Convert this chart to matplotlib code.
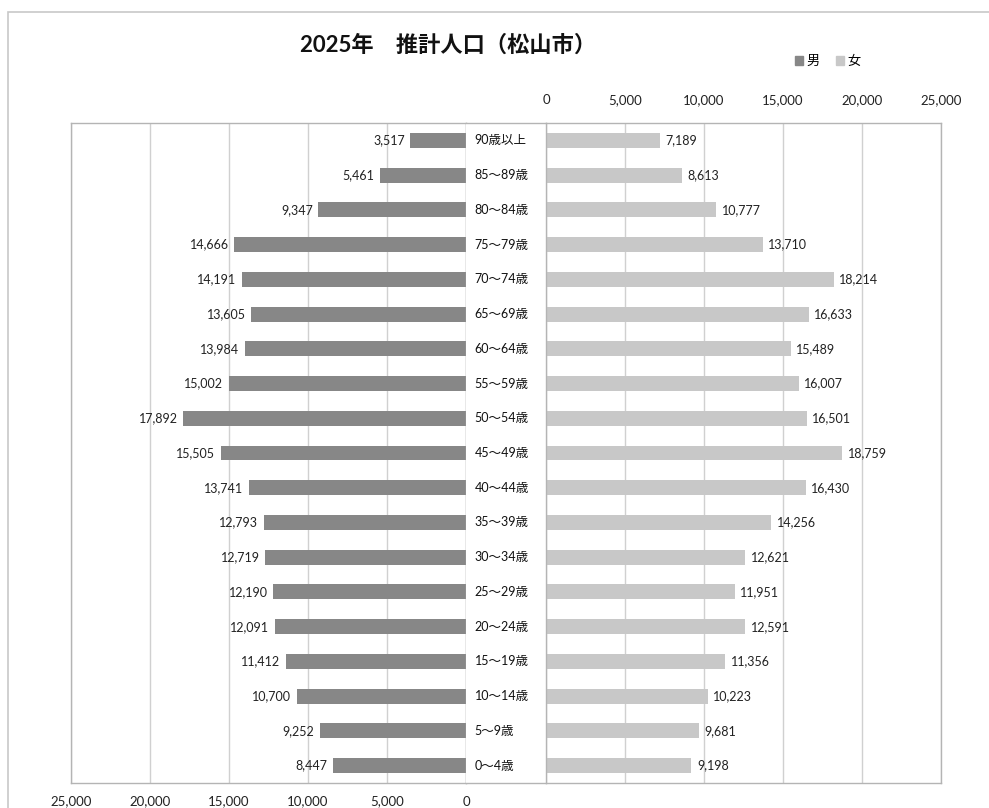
import matplotlib.pyplot as plt
import numpy as np
from matplotlib.patches import Patch, Rectangle

plt.rcParams['font.family'] = ['Lato', 'Noto Sans CJK JP', 'DejaVu Sans']

# 年齢階級(上から)
categories = ['90歳以上', '85〜89歳', '80〜84歳', '75〜79歳', '70〜74歳', '65〜69歳',
              '60〜64歳', '55〜59歳', '50〜54歳', '45〜49歳', '40〜44歳', '35〜39歳',
              '30〜34歳', '25〜29歳', '20〜24歳', '15〜19歳', '10〜14歳', '5〜9歳', '0〜4歳']
male = [3517, 5461, 9347, 14666, 14191, 13605, 13984, 15002, 17892, 15505,
        13741, 12793, 12719, 12190, 12091, 11412, 10700, 9252, 8447]
female = [7189, 8613, 10777, 13710, 18214, 16633, 15489, 16007, 16501, 18759,
          16430, 14256, 12621, 11951, 12591, 11356, 10223, 9681, 9198]
ticks = [0, 5000, 10000, 15000, 20000, 25000]

male_color = '#878787'
female_color = '#c8c8c8'
grid_color = '#d0d0d0'
spine_color = '#b4b4b4'

W, H = 989, 808
fig = plt.figure(figsize=(W / 100, H / 100), dpi=100)

def rect(x0, x1, top=123, bottom=783):
    return [x0 / W, 1 - bottom / H, (x1 - x0) / W, (bottom - top) / H]

ax_l = fig.add_axes(rect(71, 466))
ax_c = fig.add_axes(rect(466, 546))
ax_r = fig.add_axes(rect(546, 941))

y = np.arange(len(categories))
bar_h = 0.43

ax_l.barh(y, male, height=bar_h, color=male_color)
ax_r.barh(y, female, height=bar_h, color=female_color)

for a in (ax_l, ax_c, ax_r):
    a.set_ylim(len(categories) - 0.5, -0.5)
    a.set_yticks([])
    for s in a.spines.values():
        s.set_color(spine_color)
        s.set_linewidth(1.0)

ax_l.set_xlim(25000, 0)
ax_r.set_xlim(0, 25000)
for a in (ax_l, ax_r):
    a.set_xticks(ticks)
    a.set_xticklabels([f'{t:,}' for t in ticks])
    a.grid(axis='x', color=grid_color, linewidth=1.0)
    a.set_axisbelow(True)
ax_l.tick_params(axis='x', length=0, labelsize=9.5, pad=9, colors='#222222')
ax_r.xaxis.tick_top()
ax_r.tick_params(axis='x', length=0, labelsize=9.5, pad=12, colors='#222222')

# 中央: 年齢ラベル
ax_c.set_xlim(0, 1)
ax_c.set_xticks([])
ax_c.spines['left'].set_visible(False)
ax_c.spines['right'].set_visible(False)
for i, c in enumerate(categories):
    ax_c.text(0.11, i, c, ha='left', va='center', fontsize=9, color='#111111')

# 値ラベル
for i, v in enumerate(male):
    ax_l.annotate(f'{v:,}', (v, i), xytext=(-4, 0), textcoords='offset points',
                  ha='right', va='center', fontsize=9, color='#222222')
for i, v in enumerate(female):
    ax_r.annotate(f'{v:,}', (v, i), xytext=(4, 0), textcoords='offset points',
                  ha='left', va='center', fontsize=9, color='#222222')

fig.text(448 / W, 1 - 45 / H, '2025年　推計人口（松山市）', ha='center', va='center',
         fontsize=16, fontweight='bold', color='#111111')

handles = [Patch(color=male_color, label='男'), Patch(color=female_color, label='女')]
fig.legend(handles=handles, loc='center', bbox_to_anchor=(828 / W, 1 - 61 / H), ncol=2,
           frameon=False, fontsize=9.5, handlelength=0.6, handleheight=0.6,
           handletextpad=0.3, columnspacing=1.2)

# グラフ枠
fig.patches.append(Rectangle((8 / W, -0.1), 1.1, 1 - 12 / H + 0.1, transform=fig.transFigure,
                             fill=False, edgecolor='#c8c8c8', linewidth=1.2, clip_on=False))

plt.savefig('out.png', dpi=100)
